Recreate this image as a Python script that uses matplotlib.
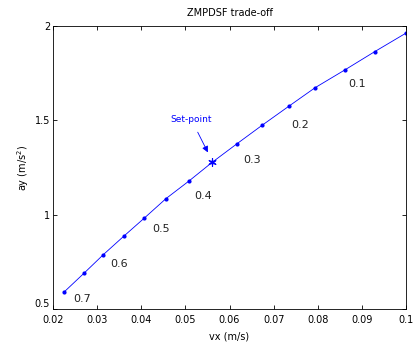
import matplotlib
matplotlib.use("Agg")
import matplotlib.pyplot as plt

# trade-off curve
vx = [0.0226, 0.0270, 0.0314, 0.0360, 0.0407, 0.0456, 0.0509, 0.0561,
      0.0617, 0.0674, 0.0734, 0.0794, 0.0862, 0.0929, 0.0999]
ay = [0.592, 0.689, 0.788, 0.885, 0.982, 1.085, 1.180, 1.278,
      1.376, 1.474, 1.574, 1.673, 1.768, 1.864, 1.961]

setpoint = (0.0561, 1.278)

label_text = ["0.7", "0.6", "0.5", "0.4", "0.3", "0.2", "0.1"]
label_x = [0.0245, 0.0329, 0.0424, 0.0520, 0.0632, 0.0739, 0.0868]
label_y = [0.555, 0.739, 0.925, 1.099, 1.290, 1.475, 1.690]

xticks = [0.02, 0.03, 0.04, 0.05, 0.06, 0.07, 0.08, 0.09, 0.1]
yticks = [0.5, 1, 1.5, 2]

fig = plt.figure(figsize=(4.13, 3.48), dpi=100)
ax = fig.add_axes([53 / 413, 39 / 348, 353 / 413, 283 / 348])

ax.plot(vx, ay, color="blue", linewidth=0.6, marker=".", markersize=4)
ax.plot(*setpoint, color="blue", marker=(6, 2, 0), markersize=6,
        markeredgewidth=0.8, linestyle="none")

for txt, tx, ty in zip(label_text, label_x, label_y):
    ax.text(tx, ty, txt, fontsize=8, va="center", ha="left", color="#222222")

ax.annotate("Set-point", xy=(0.0551, 1.33), xytext=(0.0514, 1.502),
            color="blue", fontsize=6.5, ha="center", va="center",
            arrowprops=dict(arrowstyle="-|>", color="blue", lw=0.6,
                            mutation_scale=9, shrinkA=4, shrinkB=0))

ax.set_xlim(0.02, 0.1)
ax.set_ylim(0.5, 2)
ax.set_xticks(xticks)
ax.set_xticklabels([f"{v:g}" for v in xticks])
ax.set_yticks(yticks)
ax.set_yticklabels([f"{v:g}" for v in yticks])
ax.tick_params(direction="in", top=True, right=True, labelsize=7,
               length=3, width=0.6, pad=2)
ax.tick_params(axis="x", pad=4)
ax.get_yticklabels()[0].set_va("bottom")
for spine in ax.spines.values():
    spine.set_linewidth(0.6)

ax.set_title("ZMPDSF trade-off", fontsize=7, pad=7)
ax.set_xlabel("vx (m/s)", fontsize=7, labelpad=5)
ax.set_ylabel("ay (m/s$^2$)", fontsize=7, labelpad=3)

fig.savefig("out.png", dpi=100)
